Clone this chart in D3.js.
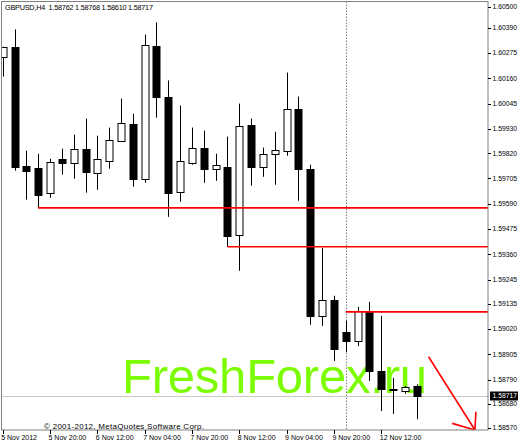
<!DOCTYPE html>
<html>
<head>
<meta charset="utf-8">
<script src="https://d3js.org/d3.v7.min.js"></script>
<style>
  body,html {margin:0; background:#fff;}
  svg {display:block; font-family:"Liberation Sans", Arial, sans-serif;}
</style>
</head>
<body>
<svg id="chart" width="518" height="444"></svg>
<script>
  // GBPUSD H4 bars, oldest first (5 Nov 04:00 ... 12 Nov 16:00)
  const opens  = [1.60254,1.60300,1.59763,1.59753,1.59640,1.59794,1.59776,1.59840,1.59731,1.59785,
                  1.59876,1.59954,1.59703,1.60309,1.60077,1.59644,1.59776,1.59845,1.59749,1.59758,
                  1.59449,1.59949,1.59758,1.59817,1.59831,1.60022,1.59749,1.59080,1.59153,1.59007,
                  1.58966,1.59103,1.58829,1.58748,1.58738,1.58762];
  const highs  = [1.60304,1.60382,1.59831,1.59817,1.59794,1.59840,1.59904,1.59977,1.59899,1.59936,
                  1.60068,1.59999,1.60359,1.60414,1.60150,1.60036,1.59936,1.59922,1.59817,1.59895,
                  1.60045,1.59977,1.59845,1.59917,1.60186,1.60077,1.59767,1.59389,1.59171,1.59057,
                  1.59121,1.59143,1.59080,1.58798,1.58761,1.58768];
  const lows   = [1.60168,1.59740,1.59608,1.59571,1.59617,1.59722,1.59703,1.59640,1.59653,1.59749,
                  1.59876,1.59667,1.59685,1.59981,1.59530,1.59599,1.59767,1.59685,1.59694,1.59394,
                  1.59285,1.59672,1.59712,1.59676,1.59808,1.59603,1.59039,1.59034,1.58875,1.58916,
                  1.58943,1.58784,1.58647,1.58634,1.58725,1.58610];
  const closes = [1.60300,1.59753,1.59740,1.59631,1.59781,1.59776,1.59840,1.59735,1.59794,1.59881,
                  1.59958,1.59703,1.60313,1.60077,1.59640,1.59785,1.59845,1.59749,1.59767,1.59444,
                  1.59945,1.59758,1.59817,1.59835,1.60022,1.59749,1.59080,1.59153,1.58930,1.58966,
                  1.59103,1.58829,1.58748,1.58743,1.58757,1.58717];

  const priceTicks = [1.60500,1.60390,1.60275,1.60160,1.60045,1.59930,1.59820,1.59705,1.59590,
                      1.59475,1.59360,1.59245,1.59135,1.59020,1.58905,1.58790,1.58680,1.58570];
  const timeTickBars = [0,4,8,12,16,20,24,28,32];
  const timeTickLabels = ["5 Nov 2012","5 Nov 20:00","6 Nov 12:00","7 Nov 04:00","7 Nov 20:00",
                          "8 Nov 12:00","9 Nov 04:00","9 Nov 20:00","12 Nov 12:00"];

  // horizontal levels: starting bar, price
  const levelBars = [3, 19, 29];
  const levelPrices = [1.59571, 1.59394, 1.59098];
  const separatorBar = 29;      // week separator (12 Nov 00:00)
  const lastPrice = 1.58717;

  // arrow object: [bar, price] points
  const arrowShaft = [[36, 1.58894], [39.92, 1.58561]];
  const arrowWings = [[[38, 1.58591], [39.92, 1.58561]], [[40, 1.58644], [39.92, 1.58561]]];

  const svg = d3.select("#chart");
  const L = 1.5, T = 1.5, R = 488, B = 430;

  const x = d3.scaleLinear().domain([0, 41]).range([2.7, 487.7]);
  const y = d3.scaleLinear().domain([1.58570, 1.60500]).range([428, 3.5]);
  const px = v => Math.round(x(v)) + 0.5;

  svg.append("clipPath").attr("id", "plot")
    .append("rect").attr("x", L).attr("y", T).attr("width", R - L).attr("height", B - T);

  const plot = svg.append("g").attr("clip-path", "url(#plot)");

  // current price line
  plot.append("line")
    .attr("x1", L).attr("x2", R)
    .attr("y1", Math.round(y(lastPrice)) + 0.5).attr("y2", Math.round(y(lastPrice)) + 0.5)
    .attr("stroke", "#c8c8c8");

  // watermark
  plot.append("text")
    .attr("x", 122).attr("y", 393)
    .attr("font-size", 49)
    .attr("textLength", 305)
    .attr("fill", "#7cfc00")
    .text("FreshForex.ru");

  // separator
  plot.append("line")
    .attr("x1", px(separatorBar)).attr("x2", px(separatorBar))
    .attr("y1", T).attr("y2", B)
    .attr("stroke", "#808080").attr("stroke-dasharray", "1.5,1.5");

  // candles
  const idx = d3.range(opens.length);
  plot.selectAll(".wick").data(idx).enter().append("line")
    .attr("x1", d => px(d)).attr("x2", d => px(d))
    .attr("y1", d => y(highs[d])).attr("y2", d => y(lows[d]))
    .attr("stroke", "#000");

  plot.selectAll(".body").data(idx).enter().append("rect")
    .attr("x", d => Math.round(x(d)) - 3)
    .attr("width", 7)
    .attr("y", d => Math.round(y(Math.max(opens[d], closes[d]))) + 0.5)
    .attr("height", d => Math.max(1, Math.round(Math.abs(y(opens[d]) - y(closes[d])))))
    .attr("fill", d => closes[d] >= opens[d] ? "#fff" : "#000")
    .attr("stroke", "#000");

  // levels
  plot.selectAll(".level").data(levelBars).enter().append("line")
    .attr("x1", d => x(d)).attr("x2", R)
    .attr("y1", (d, i) => y(levelPrices[i])).attr("y2", (d, i) => y(levelPrices[i]))
    .attr("stroke", "#ff0000").attr("stroke-width", 1.6);

  // arrow
  const lineGen = d3.line().x(d => x(d[0])).y(d => y(d[1]));
  plot.append("path").attr("d", lineGen(arrowShaft))
    .attr("stroke", "#ff0000").attr("stroke-width", 1.6).attr("fill", "none");
  arrowWings.forEach(w => {
    plot.append("path").attr("d", lineGen(w))
      .attr("stroke", "#ff0000").attr("stroke-width", 1.6).attr("fill", "none");
  });

  // frame
  svg.append("rect")
    .attr("x", L).attr("y", T).attr("width", R - L).attr("height", B - T)
    .attr("fill", "none").attr("stroke", "#808080");

  // price axis
  svg.selectAll(".ptick").data(priceTicks).enter().append("line")
    .attr("x1", R).attr("x2", R + 3)
    .attr("y1", d => Math.max(7, Math.round(y(d))) + 0.5).attr("y2", d => Math.max(7, Math.round(y(d))) + 0.5)
    .attr("stroke", "#000");
  svg.selectAll(".plabel").data(priceTicks).enter().append("text")
    .attr("x", R + 4.5)
    .attr("y", d => Math.max(7, y(d)))
    .attr("dy", "0.36em")
    .attr("font-size", 6.8)
    .attr("fill", "#000")
    .text(d => d.toFixed(5));

  // current price marker
  const ly = Math.round(y(lastPrice));
  svg.append("rect").attr("x", 490).attr("y", ly - 4.5).attr("width", 28).attr("height", 9).attr("fill", "#000");
  svg.append("text")
    .attr("x", R + 4.5).attr("y", ly).attr("dy", "0.36em")
    .attr("font-size", 6.8).attr("fill", "#fff")
    .text(lastPrice.toFixed(5));

  // time axis
  svg.selectAll(".ttick").data(timeTickBars).enter().append("line")
    .attr("x1", d => px(d)).attr("x2", d => px(d))
    .attr("y1", B).attr("y2", B + 4)
    .attr("stroke", "#000");
  svg.selectAll(".tlabel").data(timeTickBars).enter().append("text")
    .attr("x", d => x(d) - 1.5)
    .attr("y", 440)
    .attr("font-size", 7)
    .attr("fill", "#000")
    .text((d, i) => timeTickLabels[i]);

  // header and copyright
  svg.append("text").attr("x", 5).attr("y", 10).attr("font-size", 7.3).attr("fill", "#000")
    .attr("xml:space", "preserve")
    .attr("textLength", 148)
    .text("GBPUSD,H4  1.58762 1.58768 1.58610 1.58717");
  svg.append("text").attr("x", 44).attr("y", 429).attr("font-size", 8).attr("fill", "#000")
    .attr("textLength", 160)
    .text("\u00a9 2001-2012, MetaQuotes Software Corp.");
</script>
</body>
</html>
